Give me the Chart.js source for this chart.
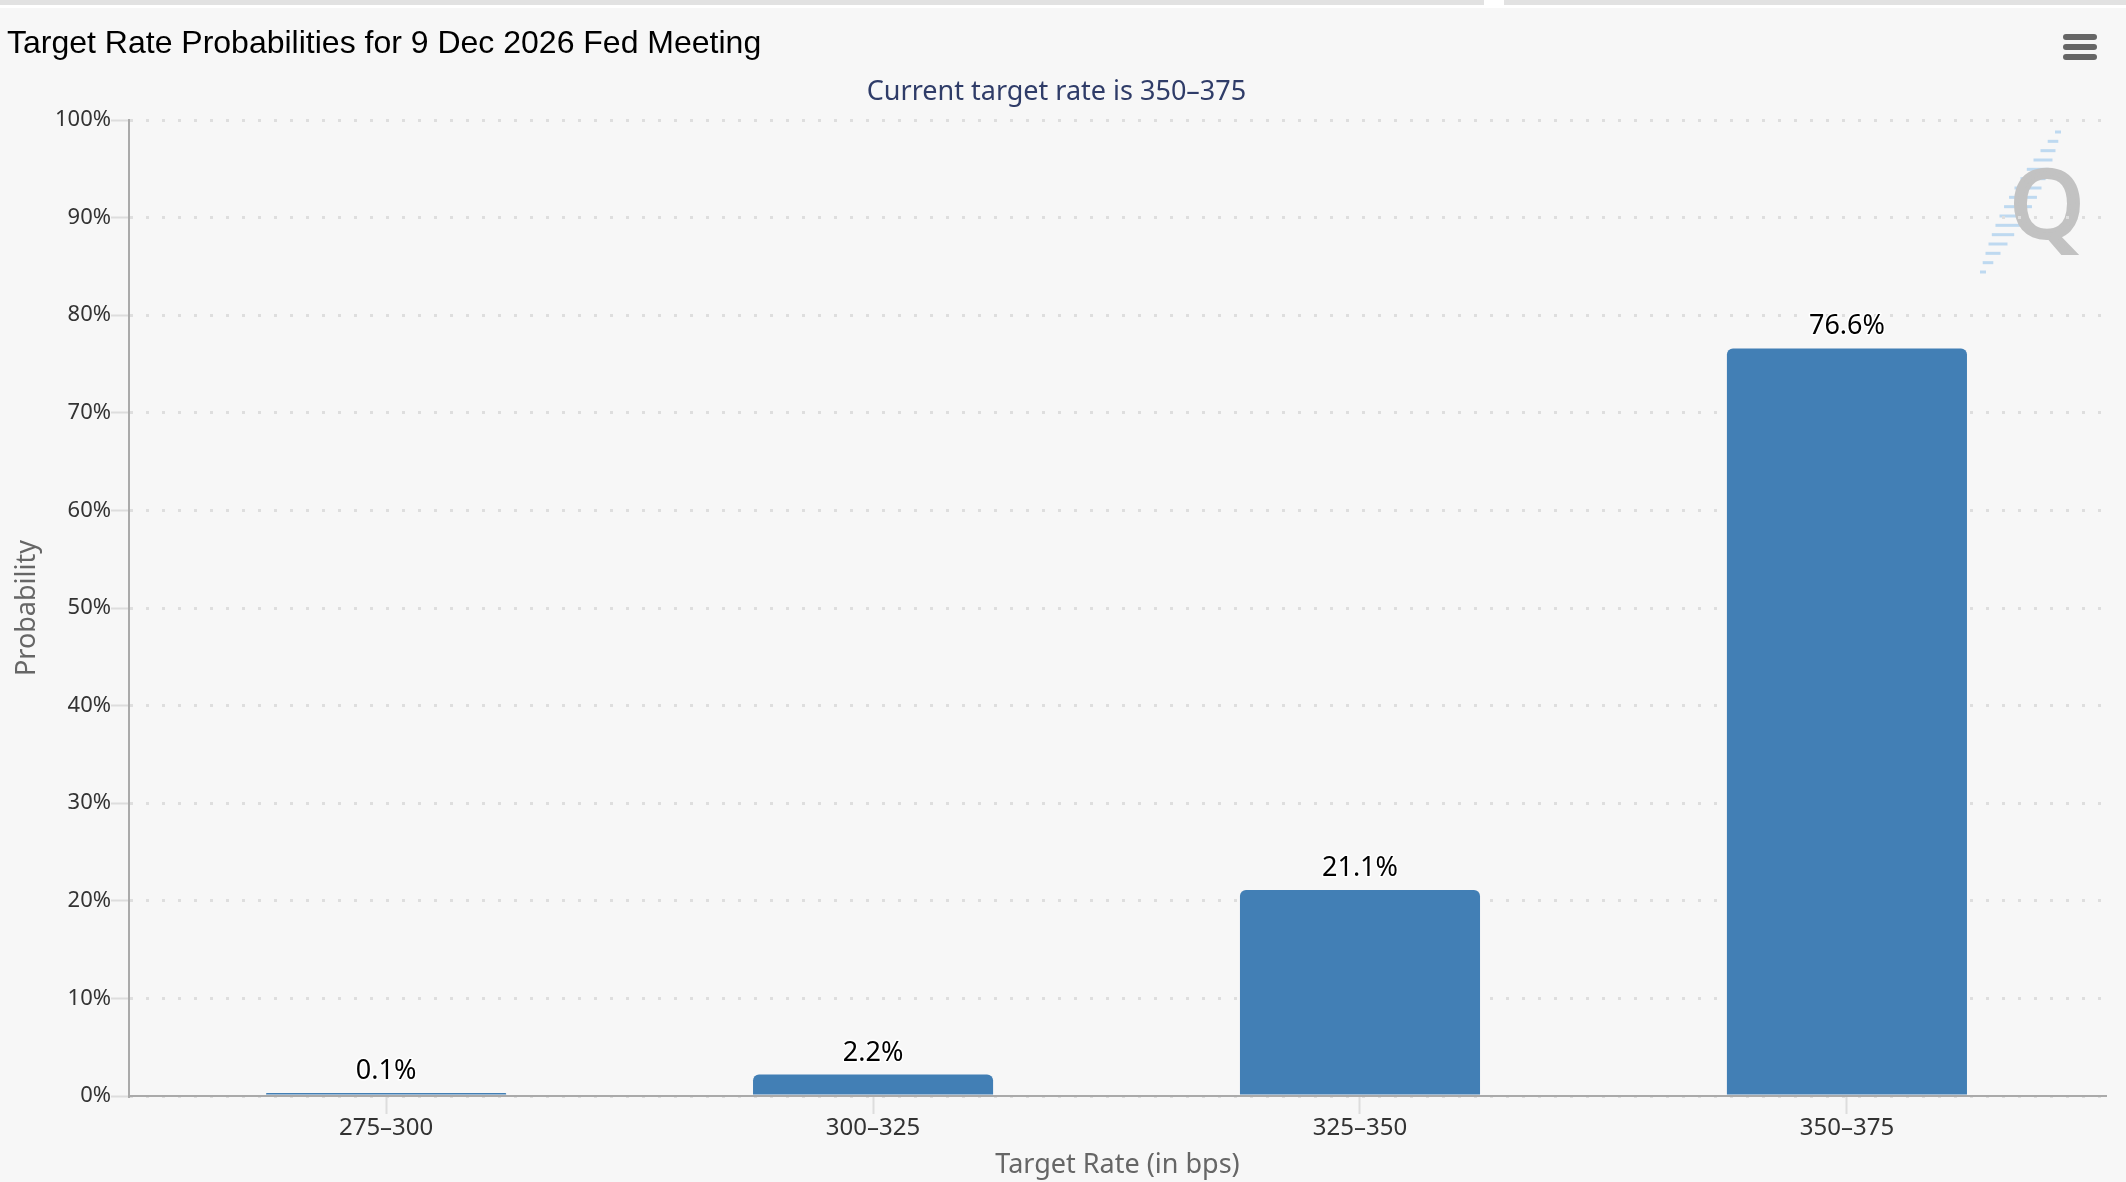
<!DOCTYPE html>
<html>
<head>
<meta charset="utf-8">
<title>Target Rate Probabilities</title>
<script src="https://cdn.jsdelivr.net/npm/chart.js@4.4.1/dist/chart.umd.min.js"></script>
<style>
  html, body { margin: 0; padding: 0; background: #ffffff; }
  #wrap { position: relative; width: 2126px; height: 1182px; }
</style>
</head>
<body>
<div id="wrap"><canvas id="fedChart" width="2126" height="1182"></canvas></div>
<script>
// chart values
const categories = ["275–300", "300–325", "325–350", "350–375"];
const probabilities = [0.1, 2.2, 21.1, 76.6];
const yTickValues = [0, 10, 20, 30, 40, 50, 60, 70, 80, 90, 100];

const titleText = "Target Rate Probabilities for 9 Dec 2026 Fed Meeting";
const subtitleText = "Current target rate is 350–375";

const BG = "#f7f7f7";
const BAR = "#427fb5";

// background, top strip, menu icon and watermark
const decor = {
  id: "decor",
  beforeDraw(chart) {
    const ctx = chart.ctx;
    ctx.save();
    ctx.fillStyle = "#ffffff";
    ctx.fillRect(0, 0, chart.width, chart.height);
    ctx.fillStyle = BG;
    ctx.fillRect(0, 8, chart.width, chart.height - 8);
    ctx.fillStyle = "#e2e2e2";
    ctx.fillRect(0, 0, 1484, 5);
    ctx.fillRect(1504, 0, chart.width - 1504, 5);

    // watermark
    ctx.strokeStyle = "rgba(120,180,230,0.45)";
    ctx.lineWidth = 3;
    for (let k = 0; k < 16; k++) {
      const t = k / 15;
      const cx = 2058 - t * 75;
      const cy = 132 + t * 140;
      const len = 6 + 22 * Math.sin(Math.PI * t);
      ctx.beginPath();
      ctx.moveTo(cx - len / 2, cy);
      ctx.lineTo(cx + len / 2, cy);
      ctx.stroke();
    }
    ctx.fillStyle = "#c2c2c2";
    ctx.strokeStyle = "#c2c2c2";
    ctx.lineWidth = 4;
    ctx.font = "94px 'Noto Sans'";
    ctx.textAlign = "center";
    ctx.textBaseline = "alphabetic";
    ctx.fillText("Q", 2047, 237);
    ctx.strokeText("Q", 2047, 237);
    ctx.restore();
  },
  afterDraw(chart) {
    const ctx = chart.ctx;
    ctx.save();
    ctx.fillStyle = "#666666";
    [37, 47, 57].forEach(y => {
      ctx.beginPath();
      ctx.roundRect(2063, y - 3, 34, 6, 3);
      ctx.fill();
    });
    ctx.restore();
  }
};

// value labels above the bars
const barLabels = {
  id: "barLabels",
  afterDatasetsDraw(chart) {
    const ctx = chart.ctx;
    const meta = chart.getDatasetMeta(0);
    ctx.save();
    ctx.font = "27px 'Noto Sans'";
    ctx.textAlign = "center";
    ctx.textBaseline = "alphabetic";
    ctx.lineJoin = "round";
    meta.data.forEach((bar, i) => {
      const txt = probabilities[i].toFixed(1) + "%";
      ctx.strokeStyle = "#ffffff";
      ctx.lineWidth = 3;
      ctx.strokeText(txt, bar.x, bar.y - 14);
      ctx.fillStyle = "#000000";
      ctx.fillText(txt, bar.x, bar.y - 14);
    });
    ctx.restore();
  }
};

new Chart(document.getElementById("fedChart"), {
  type: "bar",
  data: {
    datasets: [{
      label: "Probability",
      data: categories.map((c, i) => ({ x: i, y: probabilities[i] })),
      backgroundColor: BAR,
      borderWidth: 0,
      borderRadius: { topLeft: 6, topRight: 6, bottomLeft: 0, bottomRight: 0 },
      borderSkipped: "bottom",
      minBarLength: 3,
      barPercentage: 0.493,
      categoryPercentage: 1
    }]
  },
  options: {
    responsive: false,
    animation: false,
    layout: { padding: { left: 7, top: 0, right: 20, bottom: 0 } },
    plugins: {
      legend: { display: false },
      tooltip: { enabled: false },
      title: {
        display: true,
        text: titleText,
        align: "start",
        color: "#000000",
        font: { family: "'Liberation Sans', Arial, sans-serif", size: 32, weight: "normal", lineHeight: 1.2 },
        padding: { top: 24.5, bottom: 0 }
      },
      subtitle: {
        display: true,
        text: subtitleText,
        align: "center",
        color: "#2f3c68",
        font: { family: "'Noto Sans', sans-serif", size: 27, lineHeight: 1.2 },
        padding: { top: 12.9, bottom: 11.8 }
      }
    },
    scales: {
      x: {
        type: "linear",
        offset: false,
        min: -0.528,
        max: 3.532,
        afterBuildTicks(scale) {
          scale.ticks = categories.map((c, i) => ({ value: i }));
        },
        afterFit(scale) { scale.height = 86; },
        grid: {
          offset: false,
          drawOnChartArea: false,
          drawTicks: true,
          tickLength: 18,
          tickColor: "#dddddd",
          tickWidth: 2
        },
        border: { display: true, color: "#aaaaaa", width: 2 },
        ticks: {
          includeBounds: false,
          padding: 0,
          color: "#333333",
          font: { family: "'Noto Sans', sans-serif", size: 24 },
          callback: (v) => categories[v]
        },
        title: {
          display: true,
          text: "Target Rate (in bps)",
          color: "#666666",
          font: { family: "'Noto Sans', sans-serif", size: 27 },
          padding: { top: 8, bottom: 0 }
        }
      },
      y: {
        min: 0,
        max: 100,
        afterBuildTicks(scale) {
          scale.ticks = yTickValues.map(v => ({ value: v }));
        },
        afterFit(scale) { scale.width = 122; },
        grid: {
          color: "#dedede",
          lineWidth: 3,
          drawTicks: true,
          tickLength: 18,
          tickColor: "#dddddd",
          tickWidth: 2,
          tickBorderDash: []
        },
        border: { display: true, color: "#aaaaaa", width: 2, dash: [3, 13] },
        ticks: {
          padding: 0,
          color: "#333333",
          font: { family: "'Noto Sans', sans-serif", size: 22 },
          callback: (v) => v + "%"
        },
        title: {
          display: true,
          text: "Probability",
          color: "#666666",
          font: { family: "'Noto Sans', sans-serif", size: 27 },
          padding: { top: 4, bottom: 0 }
        }
      }
    }
  },
  plugins: [decor, barLabels]
});
</script>
</body>
</html>
